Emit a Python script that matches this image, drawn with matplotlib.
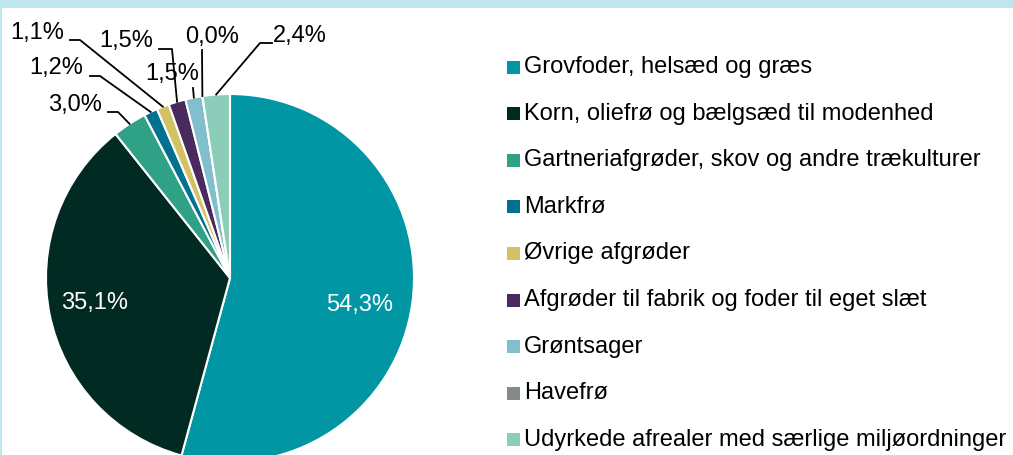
import matplotlib
matplotlib.use('Agg')
import matplotlib.pyplot as plt
from matplotlib.patches import Rectangle
import numpy as np

# data
categories = ['Grovfoder, helsæd og græs',
              'Korn, oliefrø og bælgsæd til modenhed',
              'Gartneriafgrøder, skov og andre trækulturer',
              'Markfrø',
              'Øvrige afgrøder',
              'Afgrøder til fabrik og foder til eget slæt',
              'Grøntsager',
              'Havefrø',
              'Udyrkede afrealer med særlige miljøordninger']
shares = [54.3, 35.1, 3.0, 1.2, 1.1, 1.5, 1.5, 0.0, 2.4]
pct_labels = ['54,3%', '35,1%', '3,0%', '1,2%', '1,1%', '1,5%', '1,5%', '0,0%', '2,4%']
colors = ['#0096A4', '#002A22', '#2EA186', '#00728F', '#D3C263',
          '#4A2A5E', '#80BFCB', '#838A89', '#8BCDB9']

W, H = 1013, 455
plt.rcParams['font.family'] = ['Liberation Sans', 'DejaVu Sans']

fig = plt.figure(figsize=(W / 100, H / 100), dpi=100)
fig.patch.set_facecolor('white')
# light blue frame bits
fig.add_artist(Rectangle((0, 1 - 8 / H), 1, 8 / H, transform=fig.transFigure,
                         color='#BEE6EC', lw=0))
fig.add_artist(Rectangle((0, 0), 2 / W, 1, transform=fig.transFigure,
                         color='#BEE6EC', lw=0))

# pie placement in pixels
cx, cy, R = 230, 278, 184
ax = fig.add_axes([(cx - R) / W, (H - cy - R) / H, 2 * R / W, 2 * R / H])

wedges, _ = ax.pie(shares, colors=colors, startangle=90, counterclock=False,
                   radius=1, wedgeprops=dict(edgecolor='white', linewidth=1.5))
ax.set_xlim(-1, 1)
ax.set_ylim(-1, 1)
ax.axis('off')


def px(x, y):
    # pixel -> data coords
    return (x - cx) / R, (cy - y) / R


def mid_point(w, r=1.0):
    a = np.deg2rad((w.theta1 + w.theta2) / 2)
    return r * np.cos(a), r * np.sin(a)


# inside labels (pixel centres)
inside = {0: (360, 305), 1: (95, 303)}
for i, pos in inside.items():
    x, y = px(*pos)
    ax.text(x, y, pct_labels[i], color='white', fontsize=17,
            ha='center', va='center')

# outside labels: text centre, elbow, line start (pixels)
layout = {
    2: ((75, 105), (118, 112), (108, 112)),
    3: ((56, 68), (100, 76), (90, 76)),
    4: ((37, 33), (80, 40), (70, 40)),
    5: ((126, 41), (172, 49), (159, 49)),
    6: ((172, 74), (193, 88), None),
    7: ((212, 37), (202, 50), None),
    8: ((300, 36), (260, 43), (272, 43)),
}
for i, (tpos, elbow, start) in layout.items():
    tx, ty = px(*tpos)
    ax.text(tx, ty, pct_labels[i], fontsize=17, ha='center', va='center')
    ex, ey = mid_point(wedges[i], 1.0)
    xs, ys = [ex], [ey]
    bx, by = px(*elbow)
    xs.append(bx)
    ys.append(by)
    if start is not None:
        sx, sy = px(*start)
        xs.append(sx)
        ys.append(sy)
    ax.plot(xs, ys, color='black', lw=1.3, clip_on=False)

# legend drawn by hand
row0, step = 67, 46.6
for i, (lab, col) in enumerate(zip(categories, colors)):
    yc = row0 + i * step
    fig.add_artist(Rectangle((507 / W, (H - yc - 6.5) / H), 13 / W, 13 / H,
                             transform=fig.transFigure, color=col, lw=0))
    fig.text(524 / W, (H - yc) / H, lab, fontsize=17, ha='left', va='center')

fig.savefig('out.png', dpi=100)
